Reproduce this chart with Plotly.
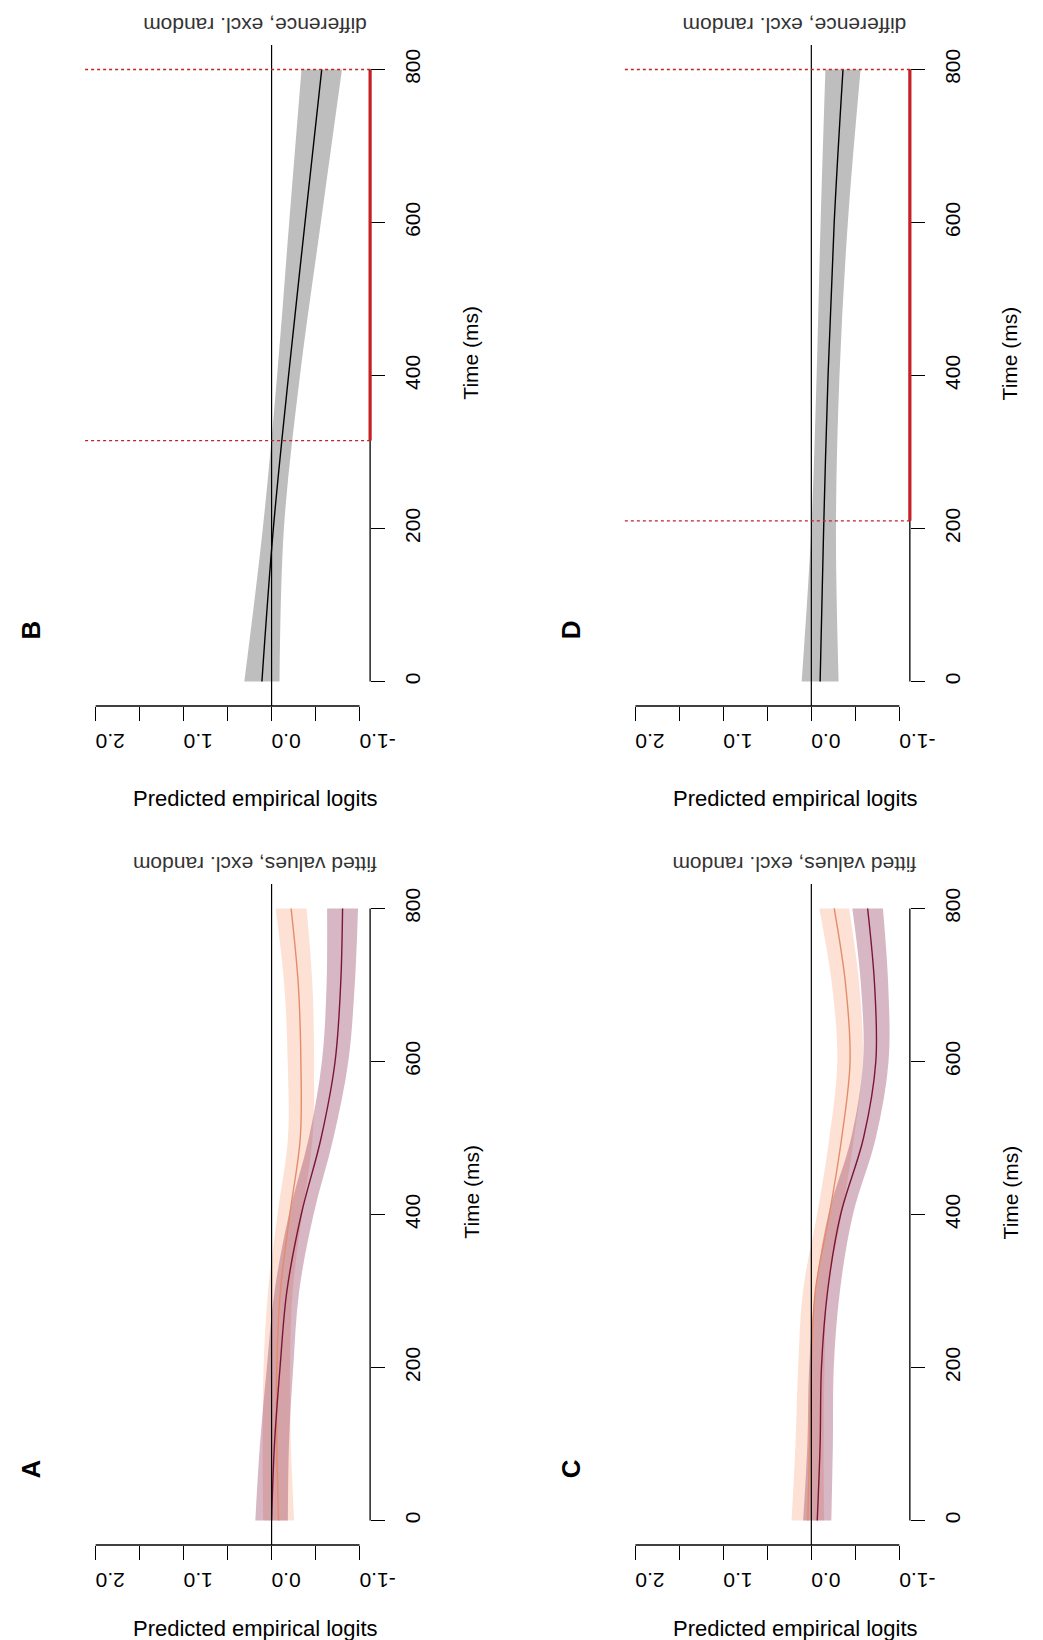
import plotly.graph_objects as go

W, H = 1043, 1640

# ---------------- data ----------------
time_fit = [0, 100, 200, 300, 400, 500, 600, 700, 800]
# Panel A (fitted values)
A_light = [-0.08, -0.059, -0.059, -0.10, -0.207, -0.326, -0.333, -0.304, -0.222]
A_dark = [0.0, -0.033, -0.096, -0.174, -0.337, -0.563, -0.722, -0.785, -0.807]
A_hw_light = [0.176, 0.16, 0.15, 0.14, 0.14, 0.14, 0.15, 0.16, 0.176]
A_hw_dark = [0.185, 0.165, 0.15, 0.14, 0.14, 0.14, 0.15, 0.16, 0.176]
# Panel C (fitted values)
C_light = [0.04, 0.02, 0.0, -0.045, -0.205, -0.345, -0.44, -0.39, -0.26]
C_dark = [-0.067, -0.10, -0.115, -0.185, -0.333, -0.593, -0.733, -0.719, -0.64]
C_hw_light = [0.185, 0.16, 0.15, 0.14, 0.14, 0.14, 0.145, 0.155, 0.17]
C_hw_dark = [0.16, 0.145, 0.14, 0.14, 0.14, 0.14, 0.145, 0.155, 0.174]

time_diff = [0, 200, 400, 600, 800]
# Panel B (difference)
B_diff = [0.11, -0.02, -0.193, -0.38, -0.57]
B_hw = [0.20, 0.12, 0.13, 0.18, 0.23]
B_sig = [315, 800]
# Panel D (difference)
D_diff = [-0.10, -0.14, -0.19, -0.26, -0.36]
D_hw = [0.21, 0.14, 0.13, 0.155, 0.20]
D_sig = [210, 800]

logit_ticks = [-1.0, -0.5, 0.0, 0.5, 1.0, 1.5, 2.0]
logit_labels = ["-1.0", "", "0.0", "", "1.0", "", "2.0"]
time_ticks = [0, 200, 400, 600, 800]
time_labels = ["0", "200", "400", "600", "800"]

LIGHT_LINE = "#E48C6A"
DARK_LINE = "#7A1535"
LIGHT_FILL = "rgba(251,180,150,0.40)"
DARK_FILL = "rgba(130,30,70,0.32)"
GREY_FILL = "#BEBEBE"
RED = "#C42026"
FONT = "Liberation Sans, Arial, sans-serif"

# plot regions in pixels
left_x = (79, 371)
right_x = (632, 924)
top_y = (37, 698)
bot_y = (876, 1537)


def dom_x(r):
    return [r[0] / W, r[1] / W]


def dom_y(r):
    return [1 - r[1] / H, 1 - r[0] / H]


panels = [
    ("B", "", left_x, top_y),
    ("D", "2", right_x, top_y),
    ("A", "3", left_x, bot_y),
    ("C", "4", right_x, bot_y),
]

fig = go.Figure()


def band(xa, ya, t, centre, hw, fill):
    lo = [c - h for c, h in zip(centre, hw)]
    hi = [c + h for c, h in zip(centre, hw)]
    fig.add_trace(go.Scatter(x=lo, y=t, xaxis=xa, yaxis=ya, mode="lines",
                             line=dict(width=0, shape="spline"), showlegend=False,
                             hoverinfo="skip"))
    fig.add_trace(go.Scatter(x=hi, y=t, xaxis=xa, yaxis=ya, mode="lines",
                             line=dict(width=0, shape="spline"), fill="tonextx",
                             fillcolor=fill, showlegend=False, hoverinfo="skip"))


def curve(xa, ya, t, centre, color):
    fig.add_trace(go.Scatter(x=centre, y=t, xaxis=xa, yaxis=ya, mode="lines",
                             line=dict(width=1.4, color=color, shape="spline"),
                             showlegend=False))


# B
band("x", "y", time_diff, B_diff, B_hw, GREY_FILL)
curve("x", "y", time_diff, B_diff, "black")
# D
band("x2", "y2", time_diff, D_diff, D_hw, GREY_FILL)
curve("x2", "y2", time_diff, D_diff, "black")
# A
band("x3", "y3", time_fit, A_light, A_hw_light, LIGHT_FILL)
band("x3", "y3", time_fit, A_dark, A_hw_dark, DARK_FILL)
curve("x3", "y3", time_fit, A_light, LIGHT_LINE)
curve("x3", "y3", time_fit, A_dark, DARK_LINE)
# C
band("x4", "y4", time_fit, C_light, C_hw_light, LIGHT_FILL)
band("x4", "y4", time_fit, C_dark, C_hw_dark, DARK_FILL)
curve("x4", "y4", time_fit, C_light, LIGHT_LINE)
curve("x4", "y4", time_fit, C_dark, DARK_LINE)

layout = dict(width=W, height=H, margin=dict(l=0, r=0, t=0, b=0), autosize=False,
              paper_bgcolor="white", plot_bgcolor="white", showlegend=False)

shapes = []
annotations = []
titles = {"B": "difference, excl. random", "D": "difference, excl. random",
          "A": "fitted values, excl. random", "C": "fitted values, excl. random"}
sig = {"B": B_sig, "D": D_sig}

for name, s, xr, yr in panels:
    xa = "x" + s
    ya = "y" + s
    layout["xaxis" + s] = dict(
        domain=dom_x(xr), range=[2.12, -1.12], anchor=ya, side="bottom",
        showgrid=False, zeroline=False, showline=False,
        ticks="outside", ticklen=14, tickwidth=1, tickcolor="black",
        tickvals=logit_ticks, ticktext=logit_labels, tickangle=180,
        ticklabelstandoff=9,
        tickfont=dict(family=FONT, size=21, color="black"))
    layout["yaxis" + s] = dict(
        domain=dom_y(yr), range=[-32, 832], anchor=xa, side="right",
        showgrid=False, zeroline=False, showline=False,
        ticks="outside", ticklen=14, tickwidth=1, tickcolor="black",
        tickvals=time_ticks, ticktext=time_labels, tickangle=-90,
        ticklabelstandoff=10,
        tickfont=dict(family=FONT, size=21, color="black"))
    shapes.append(dict(type="line", xref=xa, yref=ya + " domain", x0=0, x1=0, y0=0, y1=1,
                       line=dict(color="black", width=1.2), layer="above"))
    shapes.append(dict(type="line", xref=xa, yref=ya + " domain", x0=logit_ticks[0],
                       x1=logit_ticks[-1], y0=0, y1=0, line=dict(color="black", width=1.3)))
    shapes.append(dict(type="line", xref=xa + " domain", yref=ya, x0=1, x1=1,
                       y0=time_ticks[0], y1=time_ticks[-1], line=dict(color="black", width=1.3)))
    if name in sig:
        st, en = sig[name]
        for v in (st, en):
            shapes.append(dict(type="line", xref=xa + " domain", yref=ya, x0=0, x1=1,
                               y0=v, y1=v, line=dict(color=RED, width=1.3, dash="dot"),
                               layer="above"))
        shapes.append(dict(type="line", xref=xa + " domain", yref=ya, x0=1, x1=1,
                           y0=st, y1=en, line=dict(color=RED, width=3.2), layer="above"))

    off_x = xr[0] - left_x[0]
    off_y = yr[0] - top_y[0]
    annotations.append(dict(text="<b>%s</b>" % name, xref="paper", yref="paper",
                            x=(24 + off_x) / W, y=1 - (622 + off_y) / H, showarrow=False,
                            textangle=-90, font=dict(family=FONT, size=26, color="black"),
                            xanchor="center", yanchor="middle"))
    annotations.append(dict(text=titles[name], xref="paper", yref="paper",
                            x=(253 + off_x) / W, y=1 - (18 + off_y) / H, showarrow=False,
                            textangle=180, font=dict(family=FONT, size=21, color="#333333"),
                            xanchor="center", yanchor="middle"))
    annotations.append(dict(text="Predicted empirical logits", xref="paper", yref="paper",
                            x=(254 + off_x) / W, y=1 - (790 + off_y * 0.99) / H, showarrow=False,
                            font=dict(family=FONT, size=22, color="black"),
                            xanchor="center", yanchor="middle"))
    annotations.append(dict(text="Time (ms)", xref="paper", yref="paper",
                            x=(474 + off_x) / W, y=1 - (345 + off_y) / H, showarrow=False,
                            textangle=-90, font=dict(family=FONT, size=21, color="black"),
                            xanchor="center", yanchor="middle"))

layout["shapes"] = shapes
layout["annotations"] = annotations
fig.update_layout(**layout)
fig.write_html("out.html")
